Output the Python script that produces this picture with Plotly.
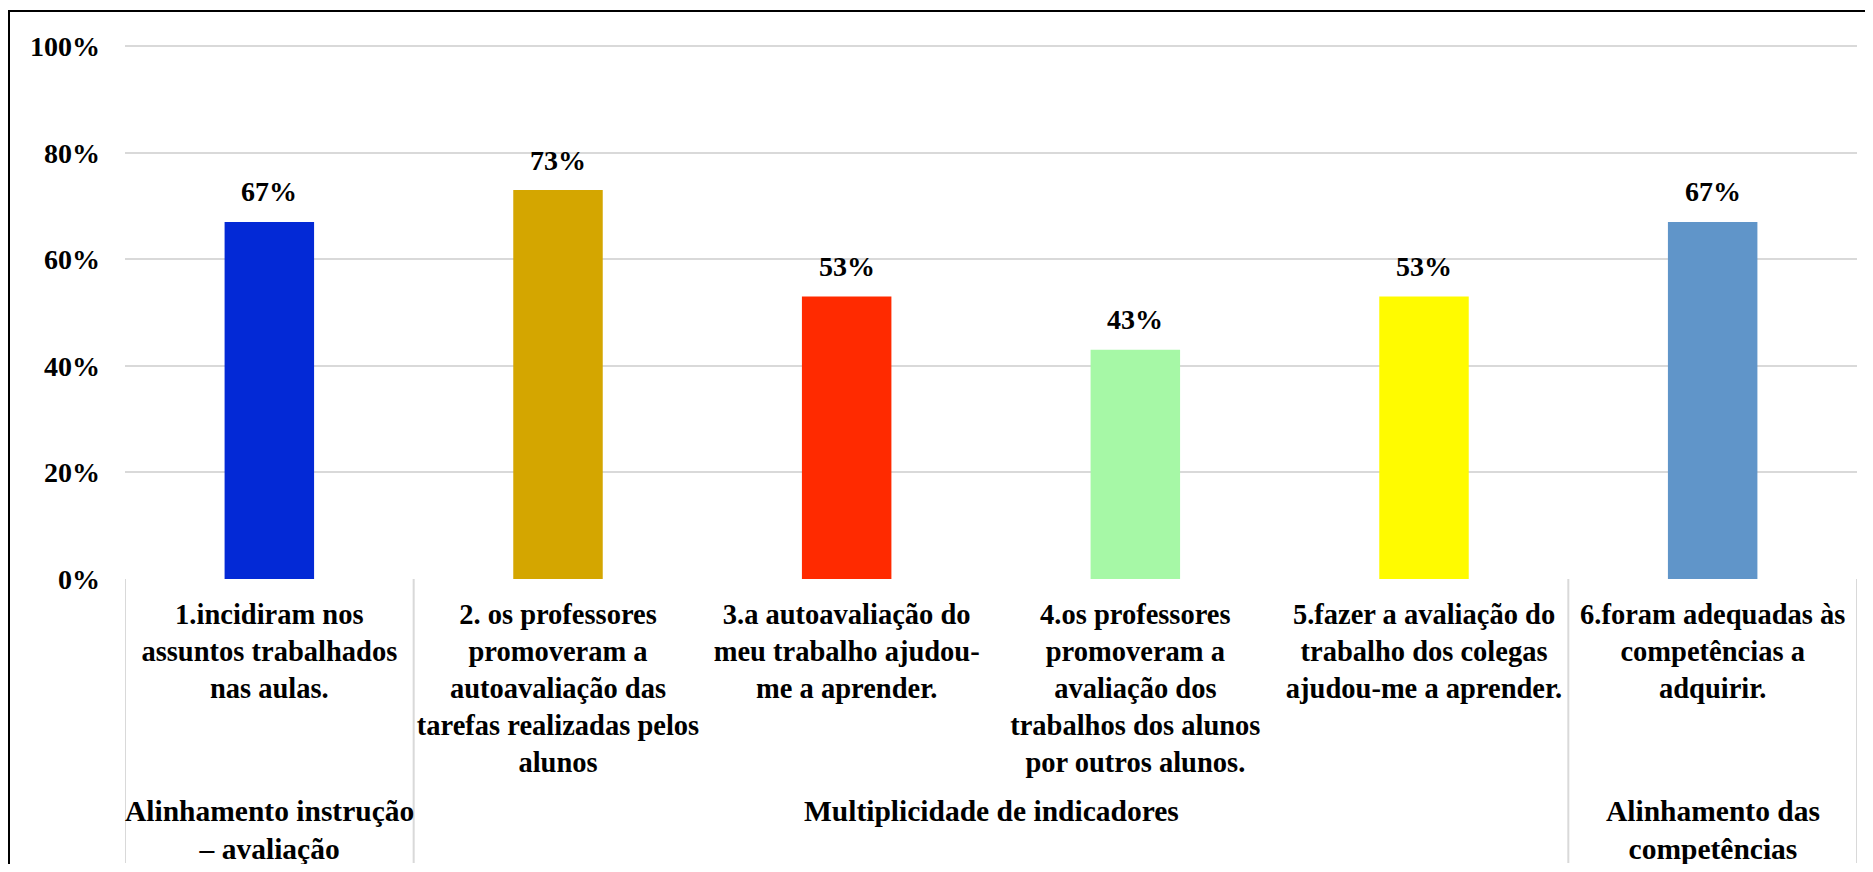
import plotly.graph_objects as go

# ---- data ----
categories = [
    "1.incidiram nos assuntos trabalhados nas aulas.",
    "2. os professores promoveram a autoavaliação das tarefas realizadas pelos alunos",
    "3.a autoavaliação do meu trabalho ajudou-me a aprender.",
    "4.os professores promoveram a avaliação dos trabalhos dos alunos por outros alunos.",
    "5.fazer a avaliação do trabalho dos colegas ajudou-me a aprender.",
    "6.foram adequadas às competências a adquirir.",
]
tick_labels = [
    "1.incidiram nos<br>assuntos trabalhados<br>nas aulas.",
    "2. os professores<br>promoveram a<br>autoavaliação das<br>tarefas realizadas pelos<br>alunos",
    "3.a autoavaliação do<br>meu trabalho ajudou-<br>me a aprender.",
    "4.os professores<br>promoveram a<br>avaliação dos<br>trabalhos dos alunos<br>por outros alunos.",
    "5.fazer a avaliação do<br>trabalho dos colegas<br>ajudou-me a aprender.",
    "6.foram adequadas às<br>competências a<br>adquirir.",
]
values = [67, 73, 53, 43, 53, 67]
bar_colors = ["#0329D6", "#D4A600", "#FF2A00", "#A6F8A6", "#FFFB00", "#6095C9"]
group_labels = [
    "Alinhamento instrução<br>– avaliação",
    "Multiplicidade de indicadores",
    "Alinhamento das<br>competências",
]
group_members = [[0], [1, 2, 3, 4], [5]]
y_ticks = [0, 20, 40, 60, 80, 100]
y_tick_labels = [f"{t}%" for t in y_ticks]
Y_MAX = 100.4

# ---- layout geometry (page has an 8px body margin) ----
OFF = 8
W, H = 1873 - 2 * OFF, 872 - 2 * OFF
PX_PER_UNIT = (579 - 46) / 100.0
L = 125 - OFF                                          # plot left at page x 125
T = round(46 - (Y_MAX - 100) * PX_PER_UNIT) - OFF      # 100% line at page y 46
R = W - (1857 - OFF)                                   # plot right at page x 1857
B = H - (579 - OFF)                                    # 0% line at page y 579
PW, PH = W - L - R, H - T - B
FONT = "Liberation Serif, Times New Roman, serif"
GRID = "#D9D9D9"


def px_x(page_x):
    return (page_x - OFF - L) / PW


def px_y(page_y):
    return (H - B - (page_y - OFF)) / PH


fig = go.Figure(
    go.Bar(
        x=categories,
        y=values,
        marker=dict(color=bar_colors, line=dict(width=0)),
        width=0.31,
        hoverinfo="x+y",
    )
)

annotations = []
for c, v in zip(categories, values):
    annotations.append(dict(
        x=c, y=v, xref="x", yref="y", text=f"{v}%", showarrow=False,
        yanchor="middle", yshift=30,
        font=dict(family=FONT, size=28, color="black", weight="bold"),
    ))

for lab, members in zip(group_labels, group_members):
    annotations.append(dict(
        x=sum(members) / len(members), y=px_y(793), xref="x", yref="paper",
        text=lab, showarrow=False, yanchor="top", xanchor="center",
        font=dict(family=FONT, size=29.5, color="black", weight="bold"),
    ))

shapes = []
bounds = [-0.5]
for members in group_members:
    bounds.append(members[-1] + 0.5)
for b in bounds:
    shapes.append(dict(
        type="line", xref="x", yref="paper", x0=b, x1=b, y0=0, y1=px_y(863),
        line=dict(color=GRID, width=2),
    ))

# outer border (extends beyond the visible canvas on right/bottom)
shapes.append(dict(
    type="rect", xref="paper", yref="paper",
    x0=px_x(9), x1=px_x(1890), y0=px_y(11), y1=px_y(895),
    line=dict(color="black", width=2), fillcolor="rgba(0,0,0,0)",
))

fig.update_layout(
    width=W, height=H,
    margin=dict(l=L, r=R, t=T, b=B, pad=0, autoexpand=False),
    paper_bgcolor="white", plot_bgcolor="white",
    showlegend=False,
    font=dict(family=FONT, color="black"),
    annotations=annotations,
    shapes=shapes,
)
fig.update_xaxes(
    tickmode="array", tickvals=categories, ticktext=tick_labels,
    tickangle=0, showgrid=False, showline=False, zeroline=False,
    ticks="", ticklabelstandoff=15, automargin=False,
    tickfont=dict(family=FONT, size=28.5, color="black", weight="bold"),
    range=[-0.5, 5.5],
)
fig.update_yaxes(
    range=[0, Y_MAX], tickmode="array", tickvals=y_ticks, ticktext=y_tick_labels,
    showgrid=True, gridcolor=GRID, gridwidth=2,
    zeroline=False, showline=False, ticks="", ticklabelstandoff=24,
    automargin=False,
    tickfont=dict(family=FONT, size=28, color="black", weight="bold"),
)

fig.write_html("out.html")
